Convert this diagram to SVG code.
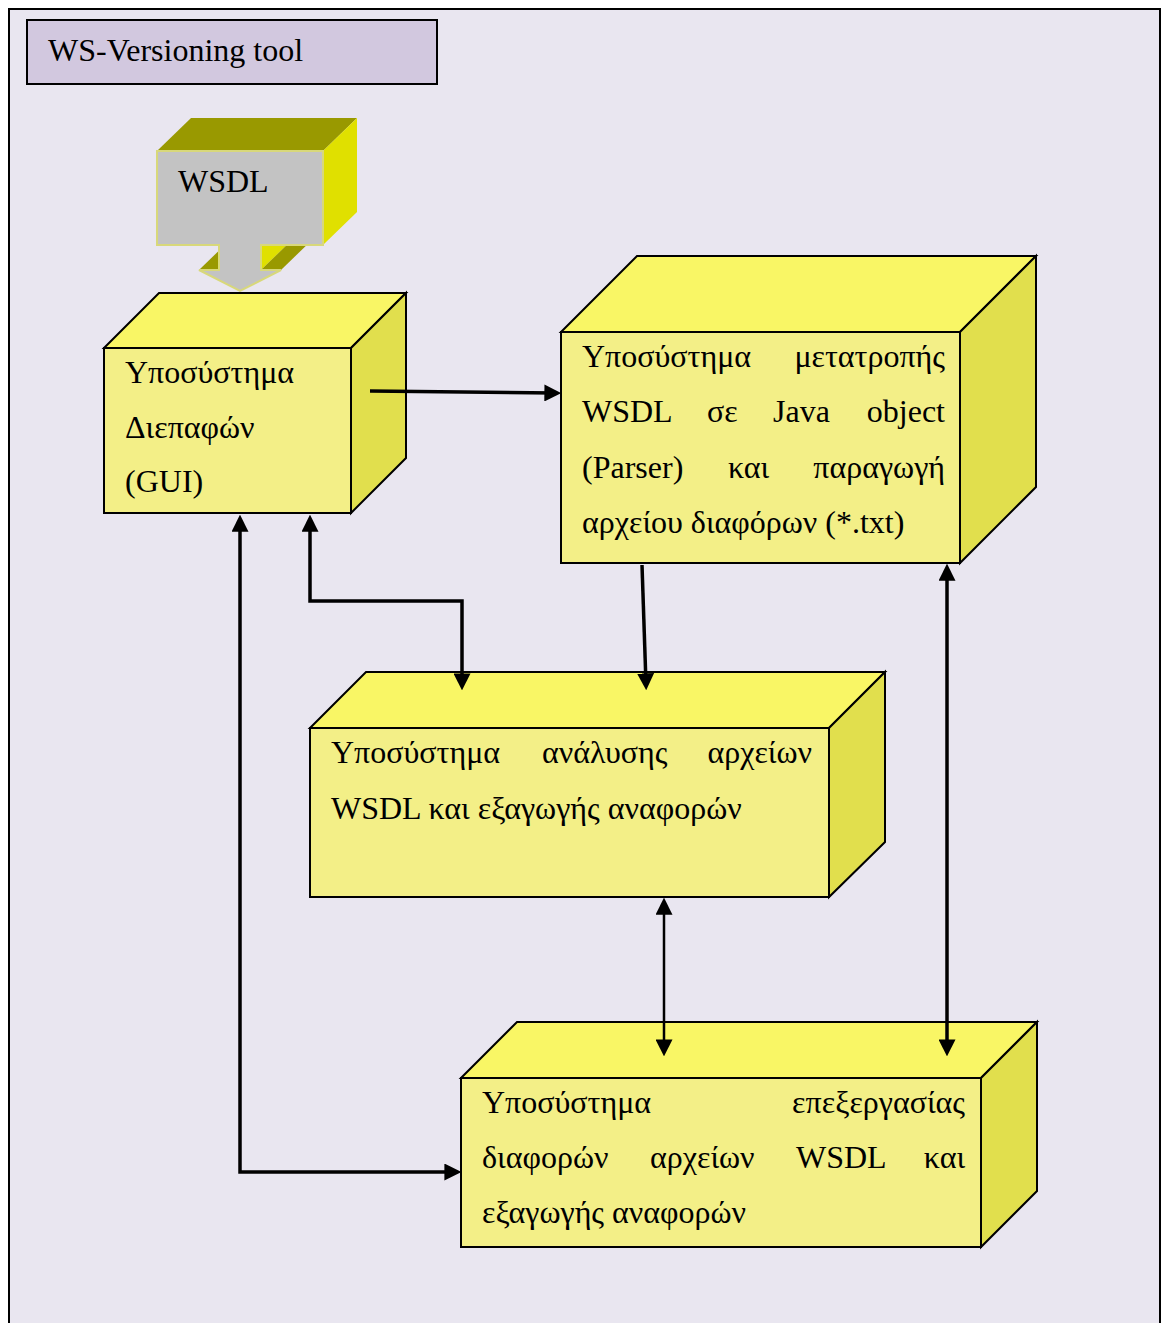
<svg xmlns="http://www.w3.org/2000/svg" width="1165" height="1323" viewBox="0 0 1165 1323">
<style>
.t{font-family:'Liberation Serif','Times New Roman',serif;font-size:32px;fill:#000}
.front{fill:#F3EF87;stroke:#000;stroke-width:2;stroke-linejoin:miter}
.top{fill:#F9F665;stroke:#000;stroke-width:2}
.side{fill:#E1DF4D;stroke:#000;stroke-width:2}
.con{fill:none;stroke:#000;stroke-width:3.5}
</style>
<defs>
<marker id="ah" viewBox="0 0 16 16" refX="10" refY="8" markerWidth="17" markerHeight="17" markerUnits="userSpaceOnUse" orient="auto-start-reverse">
<path d="M0,0 L16,8 L0,16 Z" fill="#000"/>
</marker>
</defs>
<rect x="9" y="9" width="1151" height="1330" fill="#E9E6F0" stroke="#000" stroke-width="2"/>
<g id="title">
<rect x="27" y="20" width="410" height="64" fill="#D2C8DF" stroke="#000" stroke-width="2"/>
<text class="t" x="48" y="61">WS-Versioning tool</text>
</g>
<g id="wsdl">
<polygon points="157,151 191,118 357,118 323,151" fill="#999900"/>
<polygon points="323,151 357,118 357,212 323,245" fill="#E0E000"/>
<polygon points="261,245 295,212 295,237 261,270" fill="#E0E000"/>
<polygon points="261,270 295,237 315,237 281,270" fill="#999900"/>
<polygon points="199,270 233,237 253,237 219,270" fill="#999900"/>
<polygon points="157,151 323,151 323,245 261,245 261,270 281,270 240,291 199,270 219,270 219,245 157,245" fill="#C3C3C3" stroke="#D8D87A" stroke-width="2"/>
<text class="t" x="178" y="192">WSDL</text>
</g>
<g id="gui">
<polygon class="top" points="104,348 159,293 406,293 351,348"/>
<polygon class="side" points="351,348 406,293 406,458 351,513"/>
<rect class="front" x="104" y="348" width="247" height="165"/>
<text class="t" x="125" y="383">Υποσύστημα</text>
<text class="t" x="125" y="437.5">Διεπαφών</text>
<text class="t" x="125" y="492">(GUI)</text>
</g>
<g id="parser">
<polygon class="top" points="561,332 637,256 1036,256 960,332"/>
<polygon class="side" points="960,332 1036,256 1036,487 960,563"/>
<rect class="front" x="561" y="332" width="399" height="231"/>
<text class="t" x="582" y="367">Υποσύστημα</text>
<text class="t" x="945" y="367" text-anchor="end">μετατροπής</text>
<text class="t" x="582" y="422">WSDL</text>
<text class="t" x="707" y="422">σε</text>
<text class="t" x="773" y="422">Java</text>
<text class="t" x="945" y="422" text-anchor="end">object</text>
<text class="t" x="582" y="478">(Parser)</text>
<text class="t" x="728" y="478">και</text>
<text class="t" x="945" y="478" text-anchor="end">παραγωγή</text>
<text class="t" x="582" y="533">αρχείου διαφόρων (*.txt)</text>
</g>
<g id="analysis">
<polygon class="top" points="310,728 366,672 885,672 829,728"/>
<polygon class="side" points="829,728 885,672 885,842 829,897"/>
<rect class="front" x="310" y="728" width="519" height="169"/>
<text class="t" x="331" y="763">Υποσύστημα</text>
<text class="t" x="542" y="763">ανάλυσης</text>
<text class="t" x="812" y="763" text-anchor="end">αρχείων</text>
<text class="t" x="331" y="819">WSDL και εξαγωγής αναφορών</text>
</g>
<g id="diff">
<polygon class="top" points="461,1078 517,1022 1037,1022 981,1078"/>
<polygon class="side" points="981,1078 1037,1022 1037,1191 981,1247"/>
<rect class="front" x="461" y="1078" width="520" height="169"/>
<text class="t" x="482" y="1113">Υποσύστημα</text>
<text class="t" x="965" y="1113" text-anchor="end">επεξεργασίας</text>
<text class="t" x="482" y="1168">διαφορών</text>
<text class="t" x="650" y="1168">αρχείων</text>
<text class="t" x="796" y="1168">WSDL</text>
<text class="t" x="965" y="1168" text-anchor="end">και</text>
<text class="t" x="482" y="1223">εξαγωγής αναφορών</text>
</g>
<g id="connectors">
<path class="con" d="M370,391 L555,393" marker-end="url(#ah)"/>
<path class="con" d="M310,521 V601 H462 V684" marker-start="url(#ah)" marker-end="url(#ah)"/>
<path class="con" d="M642,565 L646,684" marker-end="url(#ah)"/>
<path class="con" style="stroke-width:2.5" d="M664,904 V1050" marker-start="url(#ah)" marker-end="url(#ah)"/>
<path class="con" d="M947,570 V1050" marker-start="url(#ah)" marker-end="url(#ah)"/>
<path class="con" d="M240,521 V1172 H455" marker-start="url(#ah)" marker-end="url(#ah)"/>
</g>
</svg>
